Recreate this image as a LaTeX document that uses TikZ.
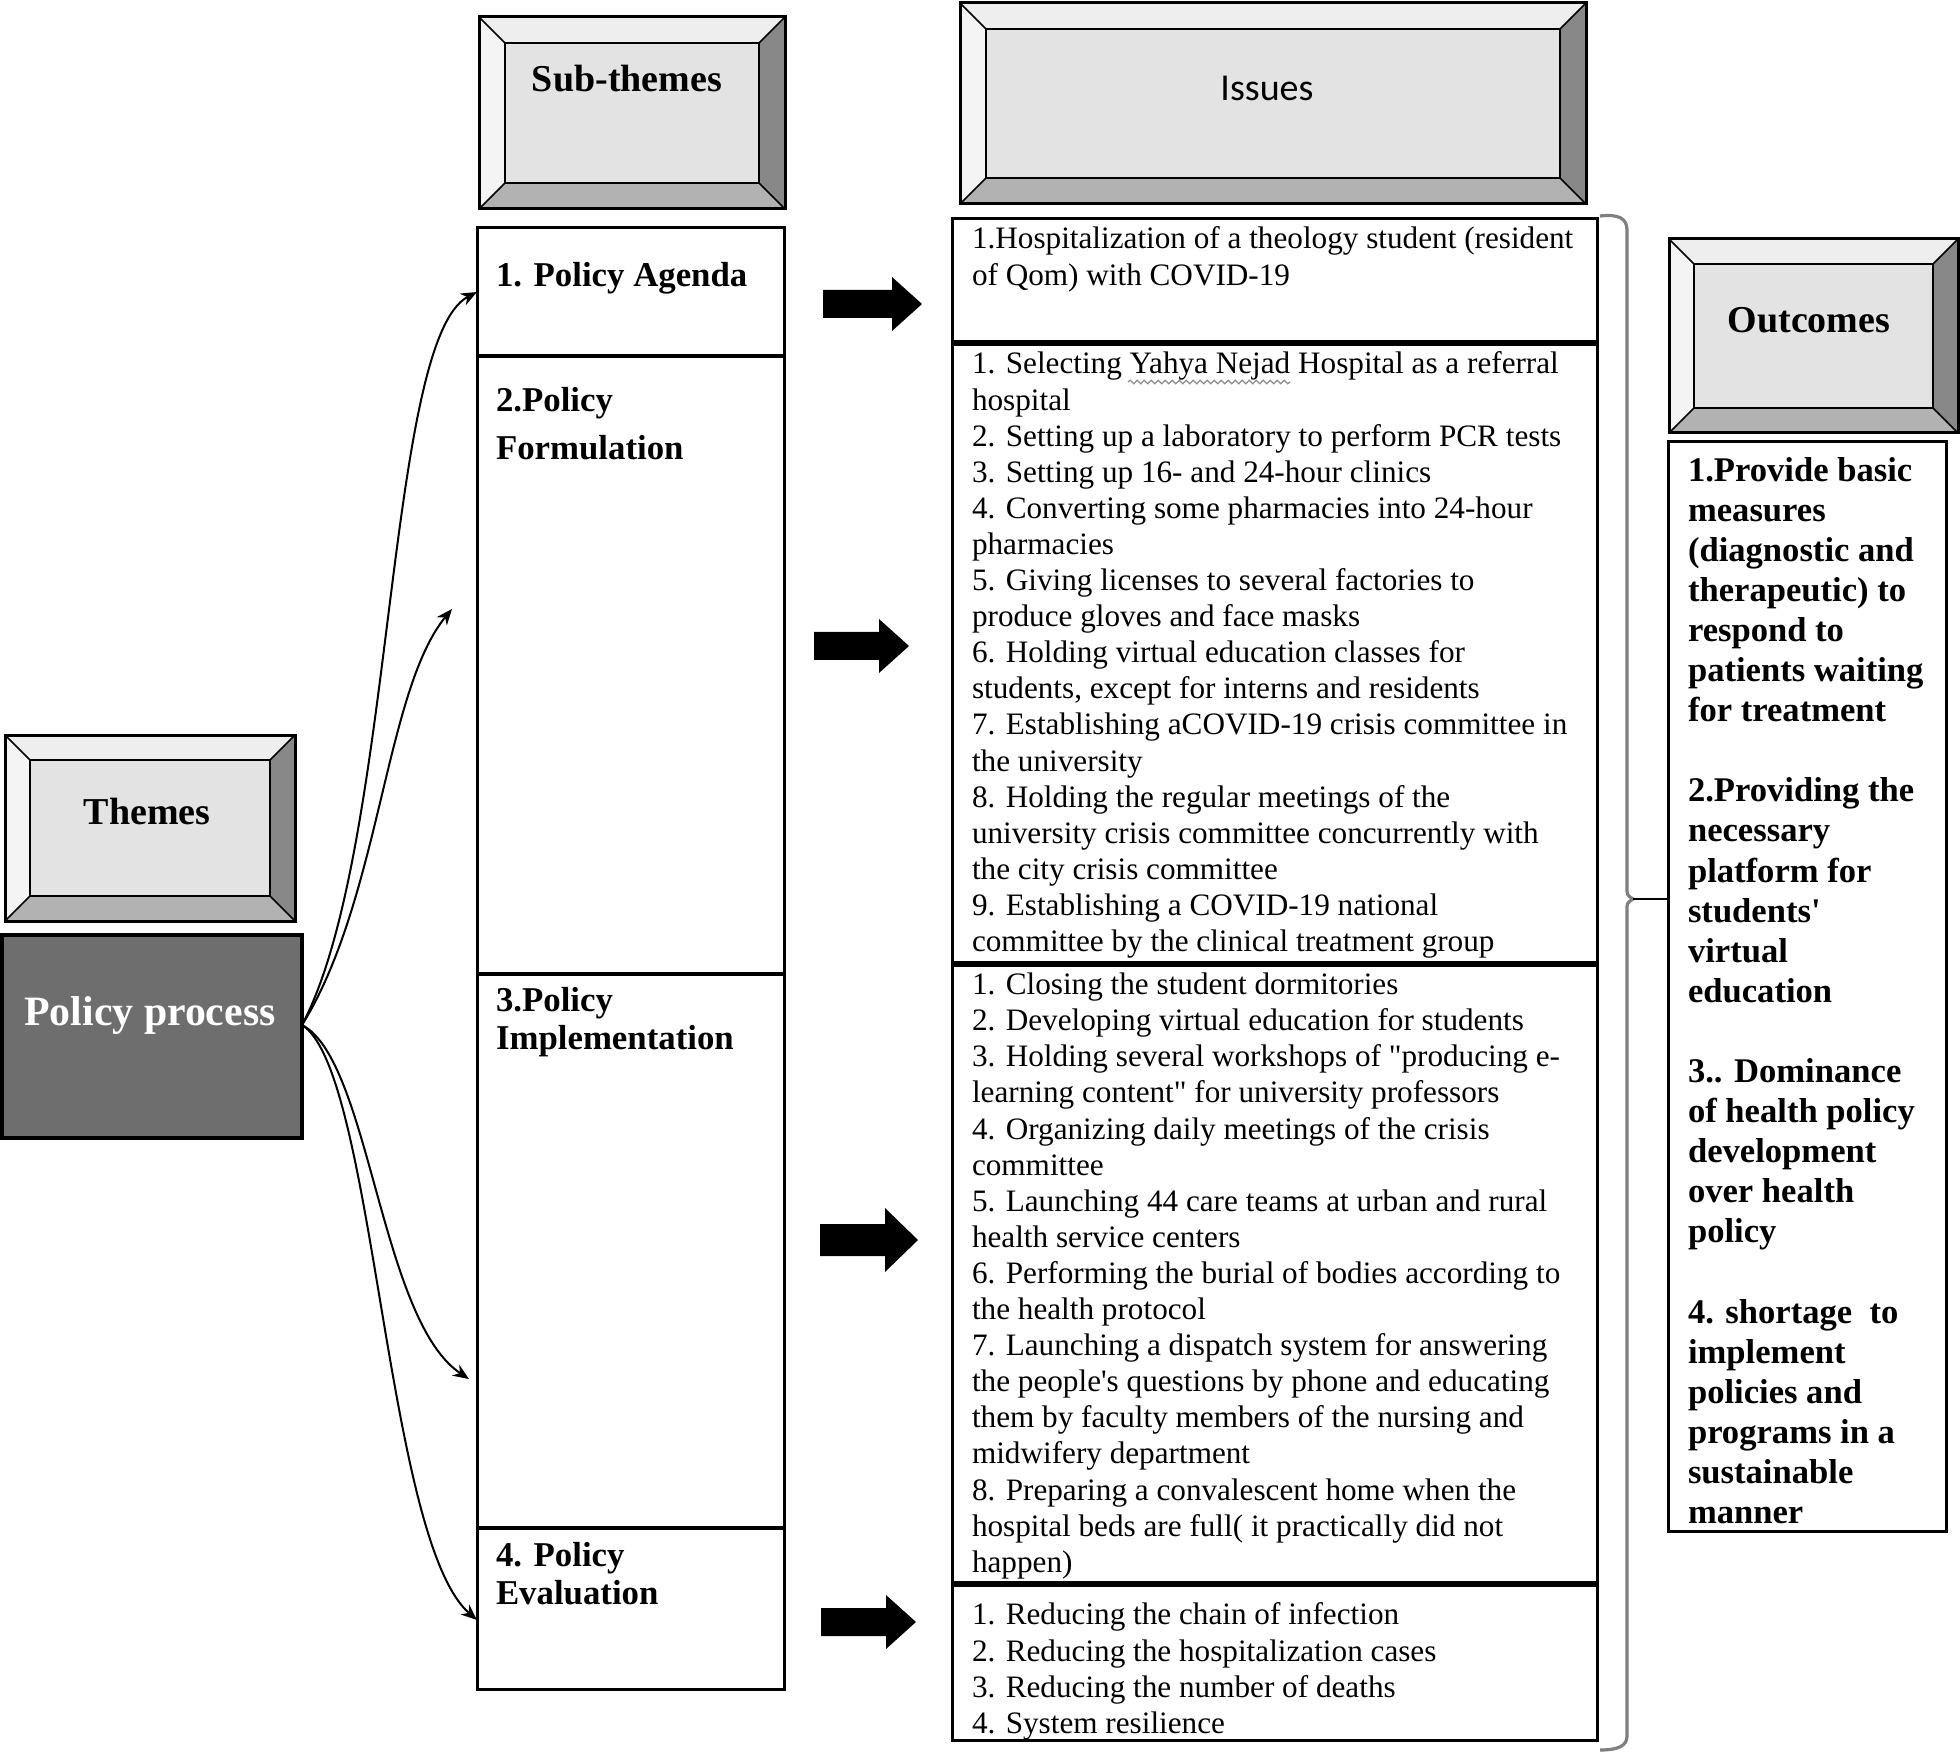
\documentclass[tikz,border=0pt]{standalone}
\usepackage{fontspec}
\setmainfont{Liberation Serif}[Ligatures=TeXOff]
\newfontfamily\hdrsans{Carlito}
\usetikzlibrary{arrows.meta,calc,decorations.pathmorphing}
\definecolor{ppgray}{RGB}{110,110,110}
\definecolor{bvtop}{RGB}{238,238,238}
\definecolor{bvleft}{RGB}{244,244,244}
\definecolor{bvright}{RGB}{136,136,136}
\definecolor{bvbot}{RGB}{178,178,178}
\definecolor{bvface}{RGB}{227,227,227}
\newcommand\bevelbox[5]{%
  \fill[bvtop] (#1,#2) -- (#3,#2) -- ({#3-#5},{#2+#5}) -- ({#1+#5},{#2+#5}) -- cycle;
  \fill[bvleft] (#1,#2) -- ({#1+#5},{#2+#5}) -- ({#1+#5},{#4-#5}) -- (#1,#4) -- cycle;
  \fill[bvright] (#3,#2) -- (#3,#4) -- ({#3-#5},{#4-#5}) -- ({#3-#5},{#2+#5}) -- cycle;
  \fill[bvbot] (#1,#4) -- (#3,#4) -- ({#3-#5},{#4-#5}) -- ({#1+#5},{#4-#5}) -- cycle;
  \draw[line width=0.8pt] (#1,#2) -- ({#1+#5},{#2+#5}) (#3,#2) -- ({#3-#5},{#2+#5})
     (#1,#4) -- ({#1+#5},{#4-#5}) (#3,#4) -- ({#3-#5},{#4-#5});
  \filldraw[fill=bvface, draw=black, line width=1.2pt] ({#1+#5},{#2+#5}) rectangle ({#3-#5},{#4-#5});
  \draw[line width=1.5pt] (#1,#2) rectangle (#3,#4);
}
\newcommand\blockarrow[6]{% x1 x2 yc shafthalf headhalf headlen
  \fill[black] (#1,{#3-#4}) -- ({#2-#6},{#3-#4}) -- ({#2-#6},{#3-#5}) -- (#2,#3)
     -- ({#2-#6},{#3+#5}) -- ({#2-#6},{#3+#4}) -- (#1,{#3+#4}) -- cycle;
}
\tikzset{
  every node/.style={inner sep=0pt, outer sep=0pt},
  subcell/.style={draw=black, line width=1.5pt, rectangle, minimum width=153.5pt},
  isscell/.style={draw=black, line width=1.5pt, rectangle, minimum width=322.5pt},
  itext/.style={anchor=north west, align=left, font=\fontsize{15.6}{18.05}\selectfont},
  otext/.style={anchor=north west, align=left, font=\bfseries\fontsize{17.3}{20.05}\selectfont},
  lbl/.style={anchor=north west, align=left, font=\bfseries\fontsize{17.4}{19}\selectfont},
  hdr/.style={font=\bfseries\fontsize{19}{22}\selectfont},
  curv/.style={line width=1pt, -{Stealth[length=8pt,width=6.5pt]}},
  bracestyle/.style={draw=black!50, line width=1.6pt},
  squiggle/.style={draw=black!45, line width=0.6pt, decorate, decoration={snake, amplitude=0.9pt, segment length=3.5pt}},
}
\begin{document}
\begin{tikzpicture}[x=0.5pt,y=-0.5pt]
\useasboundingbox (0,0) rectangle (1960,1754);

% header boxes
\bevelbox{5}{735}{295}{921}{25}
\node[hdr] (themes) at (147,812) {Themes};
\bevelbox{479}{17}{785}{209}{26}
\node[hdr] (subthemes) at (627,79) {Sub-themes};
\bevelbox{960}{3}{1586}{204}{26}
\node[font=\hdrsans\fontsize{19}{22}\selectfont] (issues) at (1267,88) {Issues};
\bevelbox{1669}{239}{1958}{433}{25}
\node[hdr] (outcomes) at (1809,320) {Outcomes};

% policy process
\node[draw=black, line width=2pt, fill=ppgray, minimum width=150pt, minimum height=101.5pt] (pp) at (152,1036.5) {};
\node[anchor=base, text=white, font=\bfseries\fontsize{20.9}{24}\selectfont] (pptext) at (150,1025) {Policy process};

% sub-theme column
\node[subcell, minimum height=64pt] (sa) at (630.5,292) {};
\node[subcell, minimum height=309pt] (sf) at (630.5,665) {};
\node[subcell, minimum height=277pt] (si) at (630.5,1251) {};
\node[subcell, minimum height=80.5pt] (se) at (630.5,1608.5) {};
\draw[line width=2pt] (sa.south west) -- (sa.south east) (sf.south west) -- (sf.south east) (si.south west) -- (si.south east);
\node[lbl] (lsa) at (496,262) {1. Policy Agenda};
\node[lbl, font=\bfseries\fontsize{17.4}{24}\selectfont] (lsf) at (496,387) {2.Policy\\Formulation};
\node[lbl] (lsi) at (496,987) {3.Policy\\Implementation};
\node[lbl] (lse) at (496,1542) {4. Policy\\Evaluation};

% issue column
\node[isscell, minimum height=62pt] (ia) at (1274.5,281) {};
\node[isscell, minimum height=310.5pt] (if) at (1274.5,653.5) {};
\node[isscell, minimum height=310pt] (ii) at (1274.5,1274) {};
\node[isscell, minimum height=78pt] (ie) at (1274.5,1662) {};
\draw[line width=2.6pt] (ia.south west) -- (ia.south east) (if.south west) -- (if.south east) (ii.south west) -- (ii.south east);

\node[itext] (tia) at (972,227) {1.Hospitalization of a theology student (resident\\of Qom) with COVID-19};
\node[itext] (tif) at (972,352) {1. Selecting Yahya Nejad Hospital as a referral\\
hospital\\
2. Setting up a laboratory to perform PCR tests\\
3. Setting up 16- and 24-hour clinics\\
4. Converting some pharmacies into 24-hour\\
pharmacies\\
5. Giving licenses to several factories to\\
produce gloves and face masks\\
6. Holding virtual education classes for\\
students, except for interns and residents\\
7. Establishing aCOVID-19 crisis committee in\\
the university\\
8. Holding the regular meetings of the\\
university crisis committee concurrently with\\
the city crisis committee\\
9. Establishing a COVID-19 national\\
committee by the clinical treatment group};
\coordinate (sqa) at (1128,382);
\coordinate (sqb) at (1290,382);
\draw[squiggle] (sqa) -- (sqb);
\node[itext] (tii) at (972,973) {1. Closing the student dormitories\\
2. Developing virtual education for students\\
3. Holding several workshops of "producing e-\\
learning content" for university professors\\
4. Organizing daily meetings of the crisis\\
committee\\
5. Launching 44 care teams at urban and rural\\
health service centers\\
6. Performing the burial of bodies according to\\
the health protocol\\
7. Launching a dispatch system for answering\\
the people's questions by phone and educating\\
them by faculty members of the nursing and\\
midwifery department\\
8. Preparing a convalescent home when the\\
hospital beds are full( it practically did not\\
happen)};
\node[itext] (tie) at (972,1603) {1. Reducing the chain of infection\\
2. Reducing the hospitalization cases\\
3. Reducing the number of deaths\\
4. System resilience};

% outcomes box
\node[draw=black, line width=1.5pt, minimum width=139pt, minimum height=544.5pt] (ob) at (1807,986.5) {};
\node[otext] (tob) at (1688,457) {1.Provide basic\\
measures\\
(diagnostic and\\
therapeutic) to\\
respond to\\
patients waiting\\
for treatment\\[20.05pt]
2.Providing the\\
necessary\\
platform for\\
students'\\
virtual\\
education\\[20.05pt]
3.. Dominance\\
of health policy\\
development\\
over health\\
policy\\[20.05pt]
4. shortage~ to\\
implement\\
policies and\\
programs in a\\
sustainable\\
manner};

% brace
\coordinate (bracetip) at (1633,899);
\draw[bracestyle] (1600,216) .. controls (1618,214) and (1627,218) .. (1627,230) -- (1627,888)
   .. controls (1627,895) .. (bracetip) .. controls (1627,903) .. (1627,910) -- (1627,1736)
   .. controls (1627,1746) and (1618,1750) .. (1600,1750);
\draw[line width=1pt] (bracetip) -- (bracetip -| ob.west);

% block arrows
\blockarrow{823}{922}{304}{14}{27}{30}
\blockarrow{814}{909}{646}{14}{27}{30}
\blockarrow{820}{918}{1240}{16}{32}{33}
\blockarrow{821}{916}{1622}{14}{27}{30}

% curved connectors
\coordinate (src) at (302,1025);
\coordinate (t2) at (452,609);
\coordinate (t3) at (469,1379);
\coordinate (t4) at (477,1620);
\draw[curv] (src) .. controls (395,850) and (385,340) .. (sa.west);
\draw[curv] (src) .. controls (380,900) and (385,690) .. (t2);
\draw[curv] (src) .. controls (370,1060) and (380,1320) .. (t3);
\draw[curv] (src) .. controls (375,1070) and (385,1540) .. (t4);
\end{tikzpicture}
\end{document}
